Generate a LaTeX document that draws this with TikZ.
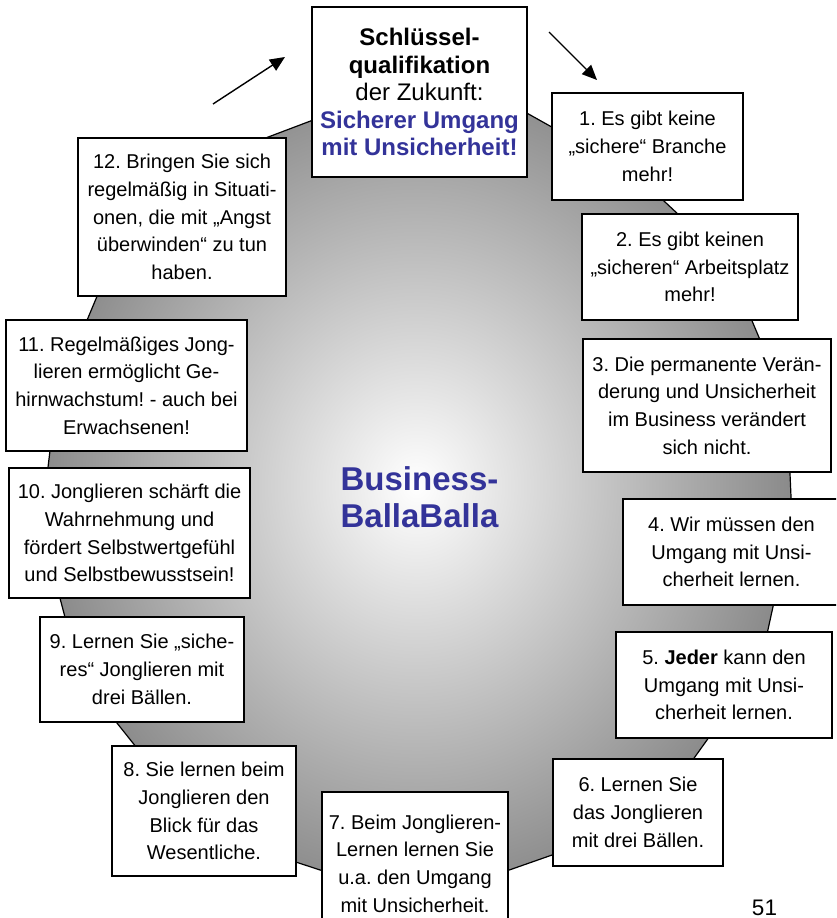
\documentclass[tikz,border=0pt]{standalone}
\usepackage{fontspec}
\setmainfont{Liberation Sans}
\usepackage{xcolor}
\usetikzlibrary{arrows.meta, positioning}
\definecolor{balla}{RGB}{51,51,153}
\frenchspacing
\newcommand{\boxfont}{\fontsize{20}{27.7}\selectfont}
\newcommand{\headfont}{\fontsize{24}{27.5}\selectfont}
\tikzset{
  textbox/.style={draw, line width=1.6pt, fill=white, align=center, inner sep=0pt, font=\boxfont},
  zukunft/.style={-{Triangle[length=15pt, width=13pt]}, line width=1.4pt},
}

\begin{document}
\begin{tikzpicture}[x=1pt, y=-1pt]
\useasboundingbox (0,0) rectangle (836,918);
\clip (0,0) rectangle (836,918);
% grauer Hintergrund
\shadedraw [line width=1.2pt, inner color=white, outer color=black!46] (448,69) -- (634,173) -- (726,259) -- (787,404) -- (792,520) -- (760,666) -- (649,821) -- (418,902) -- (204,832) -- (81,678) -- (41,526) -- (57,392) -- (144,184) -- cycle;
\node [textbox, minimum width=215pt, minimum height=170pt, font=\headfont] (kopf) at (419.5,92) {\textbf{Schlüssel-}\\ \textbf{qualifikation}\\ der Zukunft:\\ \textcolor{balla}{\textbf{Sicherer Umgang}}\\ \textcolor{balla}{\textbf{mit Unsicherheit!}}};
\node [textbox, minimum width=191pt, minimum height=107pt] (s1) at (647.5,146.5) {1. Es gibt keine\\ „sichere“ Branche\\ mehr!};
\node [textbox, minimum width=216pt, minimum height=106pt] (s2) at (690,267) {2. Es gibt keinen\\ „sicheren“ Arbeitsplatz\\ mehr!};
\node [textbox, minimum width=248pt, minimum height=133pt] (s3) at (707,405.5) {3. Die permanente Verän-\\ derung und Unsicherheit\\ im Business verändert\\ sich nicht.};
\node [textbox, minimum width=217pt, minimum height=106pt] (s4) at (731.5,552) {4. Wir müssen den\\ Umgang mit Unsi-\\ cherheit lernen.};
\node [textbox, minimum width=216pt, minimum height=106pt] (s5) at (724,685) {5. \textbf{Jeder} kann den\\ Umgang mit Unsi-\\ cherheit lernen.};
\node [textbox, minimum width=170pt, minimum height=107pt] (s6) at (638,812.5) {6. Lernen Sie\\ das Jonglieren\\ mit drei Bällen.};
\node [textbox, minimum width=186pt, minimum height=143pt] (s7) at (415,863.5) {7. Beim Jonglieren-\\ Lernen lernen Sie\\ u.a. den Umgang\\ mit Unsicherheit.};
\node [textbox, minimum width=184pt, minimum height=130pt] (s8) at (204,811) {8. Sie lernen beim\\ Jonglieren den\\ Blick für das\\ Wesentliche.};
\node [textbox, minimum width=204pt, minimum height=105pt] (s9) at (142,669.5) {9. Lernen Sie „siche-\\ res“ Jonglieren mit\\ drei Bällen.};
\node [textbox, minimum width=241pt, minimum height=130pt] (s10) at (129.5,533) {10. Jonglieren schärft die\\ Wahrnehmung und\\ fördert Selbstwertgefühl\\ und Selbstbewusstsein!};
\node [textbox, minimum width=241pt, minimum height=131pt] (s11) at (126.5,385.5) {11. Regelmäßiges Jong-\\ lieren ermöglicht Ge-\\ hirnwachstum! - auch bei\\ Erwachsenen!};
\node [textbox, minimum width=208pt, minimum height=158pt] (s12) at (182,217) {12. Bringen Sie sich\\ regelmäßig in Situati-\\ onen, die mit „Angst\\ überwinden“ zu tun\\ haben.};
% Pfeile oben
\coordinate (pl1) at (213,104);
\coordinate (pl2) at (285,57);
\coordinate (pr1) at (549,32);
\coordinate (pr2) at (597,80);
\draw [zukunft] (pl1) -- (pl2);
\draw [zukunft] (pr1) -- (pr2);
\node [font=\fontsize{33}{37}\selectfont\bfseries, text=balla, align=center, inner sep=0pt] (mitte) at (419.5,497) {Business-\\ BallaBalla};
\node [font=\fontsize{22.5}{27}\selectfont, anchor=base, inner sep=0pt] (seite) at (764.5,915) {51};
\end{tikzpicture}
\end{document}
